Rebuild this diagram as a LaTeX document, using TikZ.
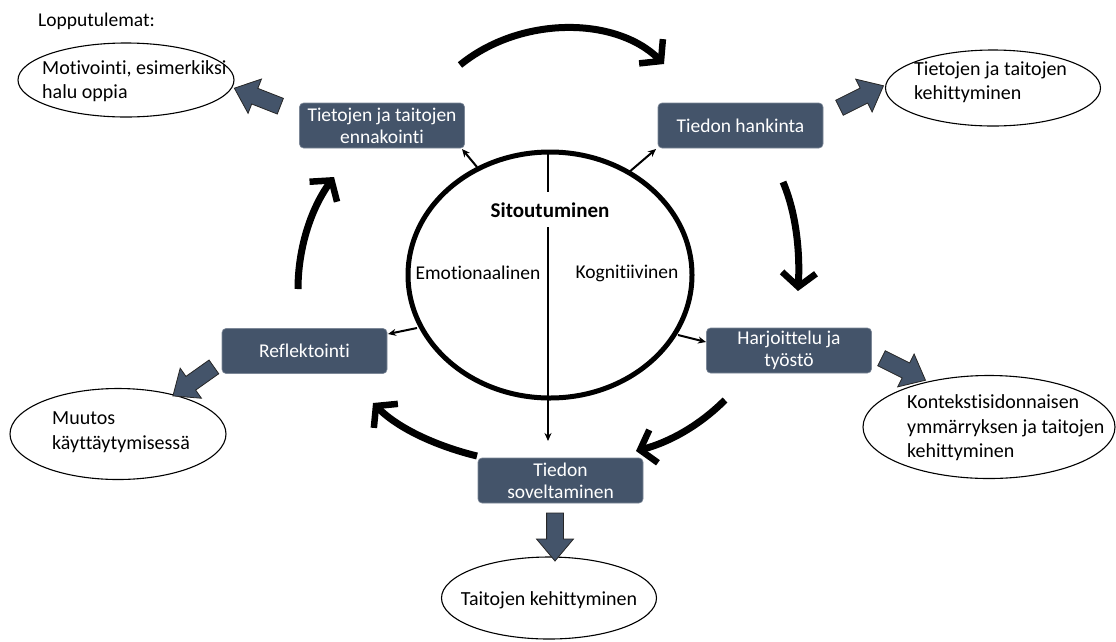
\documentclass[tikz,border=0pt]{standalone}
\usepackage{fontspec}
\setmainfont{Carlito}[Ligatures={NoCommon,NoRequired,NoContextual}]
\usetikzlibrary{arrows.meta,shapes.geometric,shapes.arrows,calc}
\definecolor{slate}{RGB}{68,84,106}
\tikzset{
  base/.style={font=\fontsize{19.5}{22}\selectfont},
  stepbox/.style={base, rectangle, rounded corners=4pt, fill=slate, draw=slate!70!white, line width=0.6pt,
    text=white, align=center, minimum width=165pt, minimum height=45pt, inner sep=0pt},
  outcome/.style={ellipse, draw=black, line width=1.1pt, inner sep=0pt},
  otext/.style={align=left, anchor=west, inner sep=0pt, font=\fontsize{20}{24.5}\selectfont},
  cycle/.style={line width=7pt, -{Straight Barb[length=14pt,width=34pt,line width=6.5pt]}},
  small/.style={line width=2pt, -{Stealth[length=8pt,width=7pt]}},
  fatarrow/.style={single arrow, draw=black!85, line width=0.8pt, fill=slate, inner xsep=0pt, inner ysep=8pt,
    single arrow head extend=10pt, single arrow tip angle=80}
}
\newcommand\fatarrow[3]{\path let \p1=(#1), \p2=(#2), \n1={atan2(\y2-\y1,\x2-\x1)}, \n2={veclen(\x2-\x1,\y2-\y1)} in
  node[fatarrow, rotate=\n1, minimum height=\n2] (#3) at ($(\p1)!0.5!(\p2)$) {};}
\begin{document}
\begin{tikzpicture}[x=1pt,y=-1pt]
\useasboundingbox (0,0) rectangle (1116,641);
\fill[white] (0,0) rectangle (1116,641);

% title
\node[base, anchor=west, inner sep=0pt] (title) at (38,21) {Lopputulemat:};

% step boxes
\node[stepbox] (ennak) at (382,125.5) {Tietojen ja taitojen\\ennakointi};
\node[stepbox] (hank) at (740.5,125.5) {Tiedon hankinta};
\node[stepbox] (refl) at (304.5,351) {Reflektointi};
\node[stepbox] (harj) at (789,350.5) {Harjoittelu ja\\työstö};
\node[stepbox] (sov) at (560.5,480.5) {Tiedon\\soveltaminen};

% outcome ellipses
\node[outcome, minimum width=216pt, minimum height=74pt] (mot) at (126,80) {};
\node[otext] (motT) at (42,81) {Motivointi, esimerkiksi\\halu oppia};
\node[outcome, minimum width=215pt, minimum height=76pt] (tk) at (993,88) {};
\node[otext] (tkT) at (914,82) {Tietojen ja taitojen\\kehittyminen};
\node[outcome, minimum width=252pt, minimum height=103pt] (kont) at (989,427) {};
\node[otext] (kontT) at (907,428) {Kontekstisidonnaisen\\ymmärryksen ja taitojen\\kehittyminen};
\node[outcome, minimum width=216pt, minimum height=91pt] (muut) at (118,434) {};
\node[otext] (muutT) at (52,432) {Muutos\\käyttäytymisessä};
\node[outcome, minimum width=215pt, minimum height=82pt] (tait) at (549,598) {};
\node[font=\fontsize{20}{24}\selectfont] (taitT) at (549,600) {Taitojen kehittyminen};

% central ellipse
\node[ellipse, draw=black, line width=5pt, minimum width=284pt, minimum height=246pt, inner sep=0pt] (sit) at (550,275) {};
\node[font=\fontsize{21}{24}\selectfont\bfseries] (sitT) at (550,210) {Sitoutuminen};
\node[base] (emo) at (478,273) {Emotionaalinen};
\node[base] (kog) at (627,273) {Kognitiivinen};
\coordinate (vtop) at (548,152);
\coordinate (vgap1) at (548,192);
\coordinate (vgap2) at (548,227);
\coordinate (vbot) at (548,441);
\draw[line width=2pt] (vtop) -- (vgap1);
\draw[small] (vgap2) -- (vbot);

% small arrows from ellipse
\coordinate (s1a) at (477,167); \coordinate (s1b) at (462,149);
\coordinate (s2a) at (628,173); \coordinate (s2b) at (656,149);
\coordinate (s3a) at (417,328); \coordinate (s3b) at (388,334);
\coordinate (s4a) at (678,335); \coordinate (s4b) at (706,342);
\draw[small] (s1a) -- (s1b);
\draw[small] (s2a) -- (s2b);
\draw[small] (s3a) -- (s3b);
\draw[small] (s4a) -- (s4b);

% cycle arrows
\coordinate (c1a) at (460,65);  \coordinate (c1b) at (664,64);
\coordinate (c2a) at (783,182); \coordinate (c2b) at (798,291);
\coordinate (c3a) at (725,400); \coordinate (c3b) at (636,451);
\coordinate (c4a) at (477,456); \coordinate (c4b) at (373,403);
\coordinate (c5a) at (298,289); \coordinate (c5b) at (334,177);
\draw[cycle] (c1a) .. controls (520,16) and (615,16) .. (c1b);
\draw[cycle] (c2a) .. controls (797,215) and (800,255) .. (c2b);
\draw[cycle] (c3a) .. controls (700,425) and (670,442) .. (c3b);
\draw[cycle] (c4a) .. controls (440,447) and (400,430) .. (c4b);
\draw[cycle] (c5a) .. controls (298,250) and (310,210) .. (c5b);

% fat arrows
\coordinate (f1a) at (285,108); \coordinate (f1b) at (239,90);
\coordinate (f2a) at (835,110); \coordinate (f2b) at (879,88);
\coordinate (f3a) at (877,356); \coordinate (f3b) at (921,378);
\coordinate (f4a) at (218,364); \coordinate (f4b) at (177,393);
\coordinate (f5a) at (555,508); \coordinate (f5b) at (555,556);
\fatarrow{f1a}{f1b}{fa1}
\fatarrow{f2a}{f2b}{fa2}
\fatarrow{f3a}{f3b}{fa3}
\fatarrow{f4a}{f4b}{fa4}
\fatarrow{f5a}{f5b}{fa5}
\end{tikzpicture}
\end{document}
